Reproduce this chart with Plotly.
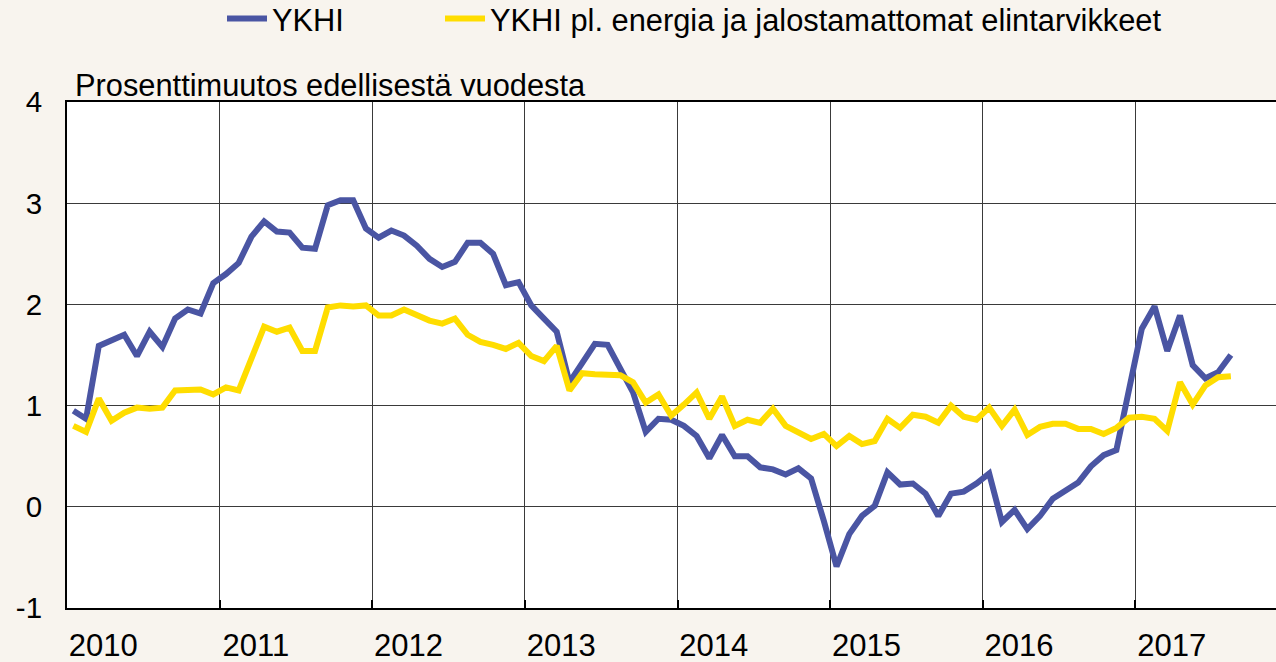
import plotly.graph_objects as go

# Year labels on the x axis (monthly data starting January 2010)
years = ["2010", "2011", "2012", "2013", "2014", "2015", "2016", "2017"]

# YKHI, % change from previous year, monthly Jan 2010 - Aug 2017
ykhi = [
    0.95, 0.87, 1.59, 1.64, 1.70, 1.49, 1.73, 1.58, 1.86, 1.95, 1.91, 2.21,
    2.30, 2.41, 2.67, 2.82, 2.72, 2.71, 2.56, 2.55, 2.98, 3.03, 3.03, 2.75,
    2.66, 2.73, 2.68, 2.58, 2.45, 2.37, 2.42, 2.61, 2.61, 2.50, 2.19, 2.22,
    1.99, 1.86, 1.73, 1.23, 1.42, 1.61, 1.60, 1.36, 1.13, 0.74, 0.87, 0.86,
    0.80, 0.70, 0.48, 0.71, 0.50, 0.50, 0.39, 0.37, 0.32, 0.38, 0.28, -0.14,
    -0.59, -0.27, -0.09, 0.01, 0.34, 0.22, 0.23, 0.13, -0.09, 0.13, 0.15, 0.23,
    0.33, -0.15, -0.03, -0.22, -0.09, 0.08, 0.16, 0.24, 0.40, 0.51, 0.56, 1.16,
    1.76, 1.98, 1.54, 1.89, 1.40, 1.27, 1.33, 1.50,
]

# YKHI excluding energy and unprocessed food
ykhi_core = [
    0.80, 0.74, 1.07, 0.85, 0.93, 0.98, 0.97, 0.98, 1.15, 1.15, 1.16, 1.11,
    1.18, 1.15, 1.46, 1.78, 1.73, 1.77, 1.54, 1.54, 1.97, 1.99, 1.98, 1.99,
    1.89, 1.89, 1.95, 1.89, 1.84, 1.81, 1.86, 1.70, 1.63, 1.60, 1.56, 1.62,
    1.49, 1.44, 1.59, 1.15, 1.32, 1.31, 1.30, 1.30, 1.23, 1.03, 1.11, 0.90,
    1.01, 1.13, 0.87, 1.09, 0.80, 0.86, 0.83, 0.97, 0.80, 0.73, 0.67, 0.72,
    0.60, 0.70, 0.62, 0.65, 0.87, 0.78, 0.91, 0.89, 0.83, 1.00, 0.89, 0.86,
    0.98, 0.80, 0.96, 0.71, 0.79, 0.82, 0.82, 0.77, 0.77, 0.72, 0.78, 0.88,
    0.89, 0.87, 0.75, 1.23, 1.01, 1.20, 1.28, 1.29,
]

y_ticks = [-1, 0, 1, 2, 3, 4]
y_ticktext = ["-1", "0", "1", "2", "3", "4"]

months = list(range(len(ykhi)))  # month index, 0 = January 2010

BLUE = "#4A55A3"
YELLOW = "#FFDD00"
FONT = "Liberation Sans, Arial, sans-serif"
FS = 29.5

fig = go.Figure()
fig.add_trace(go.Scatter(
    x=months, y=ykhi, mode="lines", name="YKHI",
    line=dict(color=BLUE, width=6), legend="legend",
))
fig.add_trace(go.Scatter(
    x=months, y=ykhi_core, mode="lines",
    name="YKHI pl. energia ja jalostamattomat elintarvikkeet",
    line=dict(color=YELLOW, width=6), legend="legend2",
))

label_vals = [12 * k + 2.35 for k in range(len(years))]
grid_vals = [12 * k - 0.5 for k in range(1, len(years))]

PW = 1209.0  # plot width in px
leg_common = dict(
    orientation="h", xanchor="left",
    y=1 - 19 / 662, yanchor="middle", yref="container",
    bgcolor="rgba(0,0,0,0)",
    font=dict(family=FONT, size=30.8, color="black"),
    itemwidth=40,
)

fig.update_layout(
    width=1276, height=662,
    paper_bgcolor="#F8F4EE",
    plot_bgcolor="white",
    margin=dict(l=67, r=0, t=102, b=54, pad=0),
    font=dict(family=FONT, size=FS, color="black"),
    showlegend=True,
    legend=dict(x=(222 - 67) / PW, **leg_common),
    legend2=dict(x=(440 - 67) / PW, **leg_common),
    xaxis=dict(
        range=[-0.5, 94.55],
        tickmode="array", tickvals=label_vals, ticktext=years,
        showgrid=False, zeroline=False,
        showline=True, linecolor="black", linewidth=2, mirror=True,
        ticks="", ticklabelstandoff=9,
        tickfont=dict(family=FONT, size=31, color="black"),
        minor=dict(tickmode="array", tickvals=grid_vals, showgrid=True,
                   gridcolor="#3a3a3a", gridwidth=1,
                   ticks="inside", ticklen=8, tickwidth=2, tickcolor="black"),
        automargin=False,
        fixedrange=True,
    ),
    yaxis=dict(
        range=[-1, 4],
        tickmode="array", tickvals=y_ticks, ticktext=y_ticktext,
        showgrid=True, gridcolor="#3a3a3a", gridwidth=1,
        zeroline=False,
        showline=True, linecolor="black", linewidth=2,
        ticks="", ticklabelstandoff=17,
        tickfont=dict(family=FONT, size=FS, color="black"),
        automargin=False,
        fixedrange=True,
    ),
    annotations=[dict(
        text="Prosenttimuutos edellisestä vuodesta",
        xref="paper", yref="paper",
        x=(73 - 67) / PW, xanchor="left",
        y=1 + 16 / 506, yanchor="middle",
        showarrow=False,
        font=dict(family=FONT, size=30.8, color="black"),
    )],
)

fig.write_html(
    "out.html",
    config={"displayModeBar": False},
    post_script="document.body.style.margin='0';document.body.style.background='#F8F4EE';",
)
